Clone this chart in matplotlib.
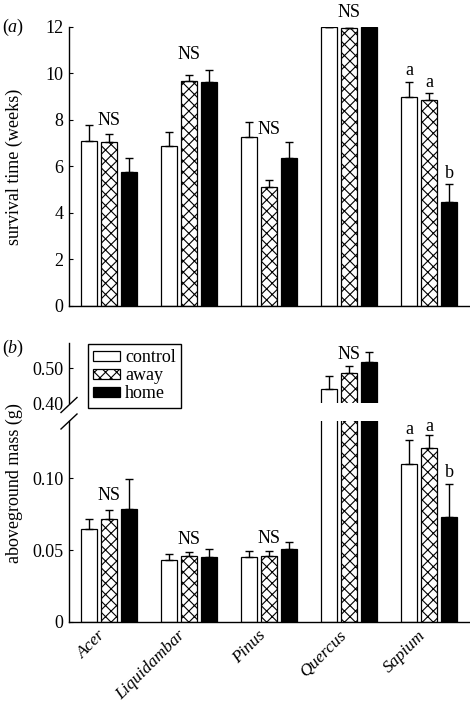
import numpy as np
import matplotlib.pyplot as plt
from matplotlib.lines import Line2D

plt.rcParams['font.family'] = 'Liberation Serif'
plt.rcParams['mathtext.fontset'] = 'custom'
plt.rcParams['mathtext.rm'] = 'Liberation Serif'
plt.rcParams['mathtext.it'] = 'Liberation Serif:italic'
plt.rcParams['hatch.linewidth'] = 0.8

species = ['Acer', 'Liquidambar', 'Pinus', 'Quercus', 'Sapium']
treatments = ['control', 'away', 'home']

# (a) survival time (weeks): means and upper error bars
surv_control = [7.11, 6.87, 7.25, 12.0, 8.99]
surv_away = [7.05, 9.66, 5.10, 11.94, 8.86]
surv_home = [5.75, 9.63, 6.37, 12.0, 4.49]
surv_control_se = [0.66, 0.60, 0.66, 0.0, 0.66]
surv_away_se = [0.33, 0.26, 0.32, 0.0, 0.30]
surv_home_se = [0.62, 0.53, 0.67, 0.0, 0.76]

# (b) aboveground mass (g)
mass_control = [0.0646, 0.043, 0.0454, 0.44, 0.110]
mass_away = [0.072, 0.0463, 0.0463, 0.487, 0.121]
mass_home = [0.0785, 0.045, 0.0507, 0.517, 0.0731]
mass_control_se = [0.0074, 0.0047, 0.0041, 0.037, 0.017]
mass_away_se = [0.006, 0.0027, 0.003, 0.020, 0.009]
mass_home_se = [0.0208, 0.0057, 0.0049, 0.029, 0.0232]

# significance letters (one per group, or one per bar)
sig_text = [['NS'], ['NS'], ['NS'], ['NS'], ['a', 'a', 'b']]
sig_a_y = [[7.96], [10.81], [7.61], [12.64], [10.12, 9.63, 5.70]]
sig_b_y = [[0.0884], [0.0578], [0.0583], [0.541], [0.134, 0.136, 0.104]]

W, H = 470, 708
fig = plt.figure(figsize=(W / 100, H / 100), dpi=100)

def fx(px):
    return px / W

def fy(py):
    return 1 - py / H

ax_a = fig.add_axes([fx(69), fy(306), fx(400), 279 / H])
ax_bt = fig.add_axes([fx(69), fy(403), fx(400), 60 / H])
ax_bb = fig.add_axes([fx(69), fy(622), fx(400), 201 / H])

x = np.arange(len(species))
offsets = [-0.25, 0.0, 0.25]
width = 0.19
styles = [dict(color='white', edgecolor='black'),
          dict(color='white', edgecolor='black', hatch='xxx'),
          dict(color='black', edgecolor='black')]


def draw(ax, series, errs):
    handles = []
    for off, vals, err, st in zip(offsets, series, errs, styles):
        b = ax.bar(x + off, vals, width, linewidth=0.9, **st)
        handles.append(b)
        ax.errorbar(x + off, vals, yerr=[np.zeros(len(vals)), err], fmt='none',
                    ecolor='black', elinewidth=1.0, capsize=2.9, capthick=1.0)
    ax.set_xlim(-0.5, 4.5)
    for s in ['top', 'right']:
        ax.spines[s].set_visible(False)
    ax.tick_params(axis='y', direction='in', length=3, pad=4, labelsize=13)
    ax.tick_params(axis='x', length=0)
    return handles


handles = draw(ax_a, [surv_control, surv_away, surv_home],
               [surv_control_se, surv_away_se, surv_home_se])
ax_a.set_ylim(0, 12)
ax_a.set_yticks([0, 2, 4, 6, 8, 10, 12])
ax_a.set_xticks([])

mass = [mass_control, mass_away, mass_home]
mass_se = [mass_control_se, mass_away_se, mass_home_se]
draw(ax_bt, mass, mass_se)
draw(ax_bb, mass, mass_se)
ax_bt.set_ylim(0.40, 0.573)
ax_bt.set_yticks([0.40, 0.50])
ax_bt.set_yticklabels(['0.40', '0.50'])
ax_bt.yaxis.get_major_ticks()[0].tick1line.set_visible(False)
ax_bt.spines['bottom'].set_visible(False)
ax_bt.set_xticks([])
ax_bb.set_ylim(0, 0.14)
ax_bb.set_yticks([0, 0.05, 0.10])
ax_bb.set_yticklabels(['0', '0.05', '0.10'])
ax_bb.set_xticks(x)
ax_bb.set_xticklabels(species, rotation=45, ha='right', fontstyle='italic', fontsize=12.5)
ax_bb.tick_params(axis='x', pad=4)

for ax in [ax_a, ax_bt, ax_bb]:
    for s in ['left', 'bottom']:
        ax.spines[s].set_linewidth(1.0)

# significance labels
for i, (txts, ya, yb) in enumerate(zip(sig_text, sig_a_y, sig_b_y)):
    pos = [x[i]] if len(txts) == 1 else list(x[i] + np.array(offsets))
    for t, px, y1, y2 in zip(txts, pos, ya, yb):
        ax_a.text(px, y1, t, ha='center', va='center', fontsize=13)
        axb = ax_bt if y2 > 0.3 else ax_bb
        axb.text(px, y2, t, ha='center', va='center', fontsize=13)

# axis break marks
for cy in [405, 421.5]:
    fig.add_artist(Line2D([fx(61), fx(77)], [fy(cy + 7.5), fy(cy - 7.5)],
                          color='black', linewidth=1.0, transform=fig.transFigure))

fig.text(fx(14), fy(166.5), 'survival time (weeks)', rotation=90,
         ha='center', va='center', fontsize=13)
fig.text(fx(14), fy(483), 'aboveground mass (g)', rotation=90,
         ha='center', va='center', fontsize=13)
fig.text(fx(2), fy(27), r'($\it{a}$)', ha='left', va='center', fontsize=13)
fig.text(fx(2), fy(348), r'($\it{b}$)', ha='left', va='center', fontsize=13)

fig.legend(handles, treatments, loc='upper left', bbox_to_anchor=(fx(88), fy(344)),
           borderaxespad=0, fancybox=False, edgecolor='black', framealpha=1,
           handlelength=1.45, handleheight=0.5, handletextpad=0.3,
           labelspacing=0.05, borderpad=0.3, fontsize=13).get_frame().set_linewidth(1.0)

fig.savefig('out.png', dpi=100)
